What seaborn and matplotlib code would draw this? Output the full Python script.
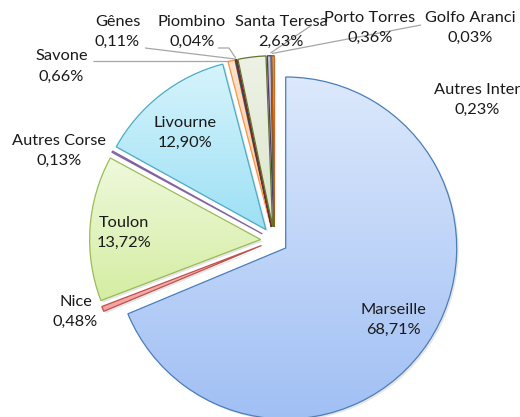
import numpy as np
import pandas as pd
import matplotlib
matplotlib.use("Agg")
import matplotlib.pyplot as plt
import matplotlib.patches as mpatches
from matplotlib.colors import to_rgb
import seaborn as sns

# ---- data ----
categories = ["Marseille", "Nice", "Toulon", "Autres Corse", "Livourne", "Savone",
              "Gênes", "Piombino", "Santa Teresa", "Porto Torres", "Golfo Aranci",
              "Autres Inter"]
shares = [68.71, 0.48, 13.72, 0.13, 12.90, 0.66, 0.11, 0.04, 2.63, 0.36, 0.03, 0.23]

# ---- styles ----
edge_colors = ["#4a7ebb", "#c0504d", "#9bbb59", "#8064a2", "#4bacc6", "#f79646",
               "#2c4d75", "#772c2a", "#5f7530", "#4d3b62", "#276a7c", "#b65708"]
top_colors = ["#dde9fc", "#f9c5c4", "#eff9dc", "#ddd3ea", "#d6f4fc", "#fde3cc",
              "#b9c9de", "#d9a9a8", "#eef2e6", "#c9c1d6", "#a8d2de", "#f5b98a"]
bottom_colors = ["#a0bff4", "#f2a09e", "#d4eda2", "#c6b6dc", "#9de0f5", "#fbc9a0",
                 "#95add0", "#c98b89", "#dce5cb", "#a99cbd", "#82bccc", "#e89a5a"]

# ---- layout (pixel coords of the 520x417 canvas, y downward) ----
W, H = 520, 417
center_px = (274.3, 240.4)
radius = 171
explode_px = 13.7
label_pos = {
    "Marseille": (393, 320), "Nice": (75.5, 312), "Toulon": (124, 233),
    "Autres Corse": (59.5, 151), "Livourne": (185, 133), "Savone": (61.5, 66.5),
    "Gênes": (117.5, 31.7), "Piombino": (192, 31.7), "Santa Teresa": (281, 31.7),
    "Porto Torres": (370, 28), "Golfo Aranci": (470, 28), "Autres Inter": (477, 100),
}
leader_lines = [
    [(93, 61), (230, 61)],
    [(145, 48), (235, 59)],
    [(218, 48), (229, 48), (236, 58.5)],
    [(312, 25), (270.5, 53)],
    [(421, 25), (272, 53.5)],
]

df = pd.DataFrame({"port": categories, "share": shares})
df["label"] = df["share"].map(lambda v: f"{v:.2f}".replace(".", ",") + "%")

sns.set_theme(style="white")
plt.rcParams["font.family"] = ["Lato", "DejaVu Sans"]

fig = plt.figure(figsize=(W / 100, H / 100), dpi=100)
ax = fig.add_axes([0, 0, 1, 1])

def Y(y):
    return H - y

cx, cy = center_px[0], Y(center_px[1])

wedges, _ = ax.pie(df["share"], startangle=90, counterclock=False,
                   center=(cx, cy), radius=radius,
                   explode=[explode_px] * len(df), frame=True)

for i, w in enumerate(wedges):
    # soft shadow
    sh = mpatches.Wedge((w.center[0] + 2.0, w.center[1] - 2.0), w.r, w.theta1, w.theta2,
                        facecolor="#c8c8c8", edgecolor="none", alpha=0.45, zorder=0.5)
    ax.add_patch(sh)
    w.set_facecolor("none")
    w.set_edgecolor(edge_colors[i])
    w.set_linewidth(0.9)
    w.set_zorder(2)
    verts = w.get_path().vertices
    x0, x1 = verts[:, 0].min(), verts[:, 0].max()
    y0, y1 = verts[:, 1].min(), verts[:, 1].max()
    b = np.array(to_rgb(bottom_colors[i]))
    t = np.array(to_rgb(top_colors[i]))
    f = np.linspace(0, 1, 256)[:, None, None]
    grad = b[None, None, :] * (1 - f) + t[None, None, :] * f
    im = ax.imshow(grad, extent=[x0 - 1, x1 + 1, y0 - 1, y1 + 1], origin="lower",
                   aspect="auto", zorder=1.5, interpolation="bilinear")
    im.set_clip_path(w)

for pts in leader_lines:
    xs = [p[0] for p in pts]
    ys = [Y(p[1]) for p in pts]
    ax.plot(xs, ys, color="#a6a6a6", lw=0.9, zorder=3, solid_capstyle="butt")

for _, row in df.iterrows():
    x, y = label_pos[row["port"]]
    ax.text(x, Y(y), f"{row['port']}\n{row['label']}", ha="center", va="center",
            fontsize=11.8, color="#1a1a1a", linespacing=1.55, zorder=4)

ax.set_xlim(0, W)
ax.set_ylim(0, H)
ax.set_aspect("auto")
ax.axis("off")
fig.savefig("out.png", dpi=100, facecolor="white")
